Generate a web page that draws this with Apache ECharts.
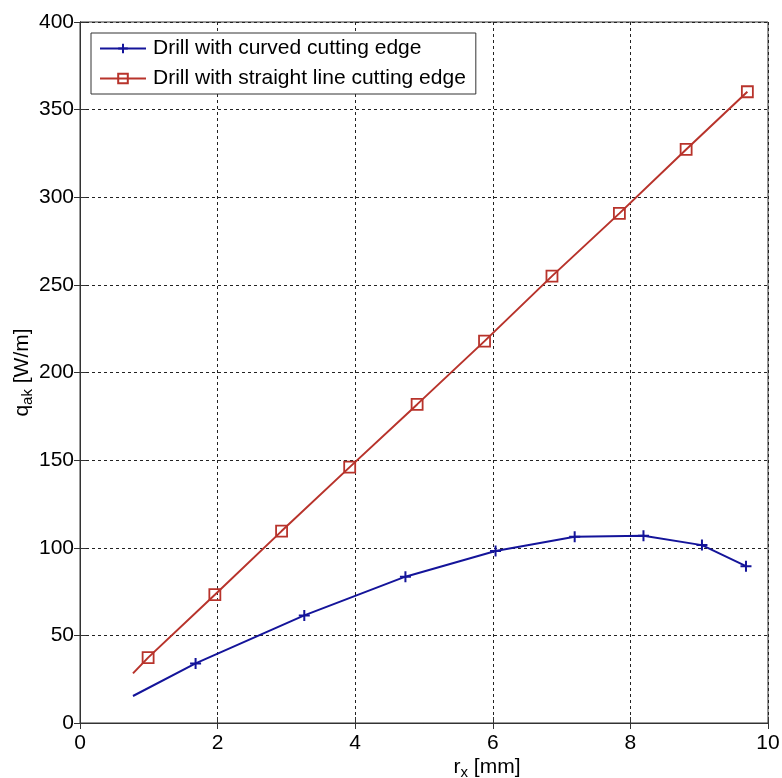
<!DOCTYPE html>
<html>
<head>
<meta charset="utf-8">
<script src="https://cdn.jsdelivr.net/npm/echarts@6/dist/echarts.min.js"></script>
<style>
  html, body { margin: 0; padding: 0; background: #fff; }
  #chart { width: 782px; height: 778px; }
</style>
</head>
<body>
<div id="chart"></div>
<script>
// values
var curvedR = [0.77, 1.68, 3.26, 4.73, 6.04, 7.19, 8.19, 9.04, 9.68];
var curvedQ = [15.4, 34.0, 61.4, 83.5, 98.1, 106.3, 106.8, 101.5, 89.5];
var straightR = [0.77, 0.99, 1.96, 2.93, 3.92, 4.90, 5.88, 6.86, 7.84, 8.81, 9.70];
var straightQ = [28.3, 37.3, 73.2, 109.5, 146.0, 181.8, 217.9, 255.0, 290.8, 327.3, 360.2];
var unmarked = [0]; // first point of each line carries no marker
var xTicks = [0, 10, 2];
var yTicks = [0, 400, 50];

var fontFamily = "'Liberation Sans', Arial, sans-serif";
var fontSize = 21;
var blue = "#14149a";
var red = "#b8332b";

function makeData(xs, ys) {
    var rows = [];
    for (let i = 0; i < xs.length; i++) {
        var item = { value: [xs[i], ys[i]] };
        if (unmarked.indexOf(i) >= 0) {
            item.symbol = "none";
        }
        rows.push(item);
    }
    return rows;
}

var gridLine = { show: true, lineStyle: { color: "#222", type: [3, 3], width: 1 } };
var axisLine = { show: true, lineStyle: { color: "#333", width: 1 } };
var tick = { show: true, inside: true, length: 6, lineStyle: { color: "#333" } };
var labelStyle = { color: "#000", fontSize: fontSize, fontFamily: fontFamily };
var nameRich = {
    a: { fontSize: fontSize, fontFamily: fontFamily, color: "#000", lineHeight: 24 },
    s: { fontSize: 15, fontFamily: fontFamily, color: "#000", padding: [12, 0, 0, 0], lineHeight: 24 }
};

var chart = echarts.init(document.getElementById("chart"), null, { renderer: "canvas" });

var option = {
    backgroundColor: "#fff",
    animation: false,
    grid: {
        left: 80, right: 14, top: 22, bottom: 55,
        containLabel: false, outerBoundsMode: "none",
        show: true, borderColor: "#333", borderWidth: 1
    },
    legend: {
        orient: "vertical",
        left: 91, top: 33,
        padding: [5, 10, 5, 8],
        itemWidth: 46, itemHeight: 12, itemGap: 9,
        backgroundColor: "#fff",
        borderColor: "#333", borderWidth: 1,
        textStyle: { color: "#000", fontSize: fontSize, fontFamily: fontFamily, padding: [0, 0, 0, 2] },
        data: ["Drill with curved cutting edge", "Drill with straight line cutting edge"]
    },
    xAxis: [
        {
            type: "value", min: xTicks[0], max: xTicks[1], interval: xTicks[2],
            position: "bottom",
            axisLine: axisLine, axisTick: tick, splitLine: gridLine,
            axisLabel: Object.assign({ margin: 10 }, labelStyle),
            name: "{a|r}{s|x}{a| [mm]}",
            nameLocation: "middle", nameGap: 32, nameMoveOverlap: false,
            nameTextStyle: { padding: [0, 0, 0, 126], rich: nameRich }
        },
        {
            type: "value", min: xTicks[0], max: xTicks[1], interval: xTicks[2],
            position: "top",
            axisLine: axisLine, axisTick: tick, splitLine: { show: false },
            axisLabel: { show: false }
        }
    ],
    yAxis: [
        {
            type: "value", min: yTicks[0], max: yTicks[1], interval: yTicks[2],
            position: "left",
            axisLine: axisLine, axisTick: tick, splitLine: gridLine,
            axisLabel: Object.assign({ margin: 6 }, labelStyle),
            name: "{a|q}{s|ak}{a| [W/m]}",
            nameLocation: "middle", nameGap: 46, nameMoveOverlap: false,
            nameTextStyle: { rich: nameRich }
        },
        {
            type: "value", min: yTicks[0], max: yTicks[1], interval: yTicks[2],
            position: "right",
            axisLine: axisLine, axisTick: tick, splitLine: { show: false },
            axisLabel: { show: false }
        }
    ],
    series: [
        {
            name: "Drill with curved cutting edge",
            type: "line",
            data: makeData(curvedR, curvedQ),
            symbol: "path://M5,0V10M0,5H10",
            symbolSize: 11,
            lineStyle: { color: blue, width: 2 },
            itemStyle: { color: blue, borderColor: blue, borderWidth: 2 },
            z: 3
        },
        {
            name: "Drill with straight line cutting edge",
            type: "line",
            data: makeData(straightR, straightQ),
            symbol: "rect",
            symbolSize: 11,
            lineStyle: { color: red, width: 2 },
            itemStyle: { color: "rgba(255,255,255,0)", borderColor: red, borderWidth: 1.8 },
            z: 3
        }
    ]
};

chart.setOption(option);
</script>
</body>
</html>
